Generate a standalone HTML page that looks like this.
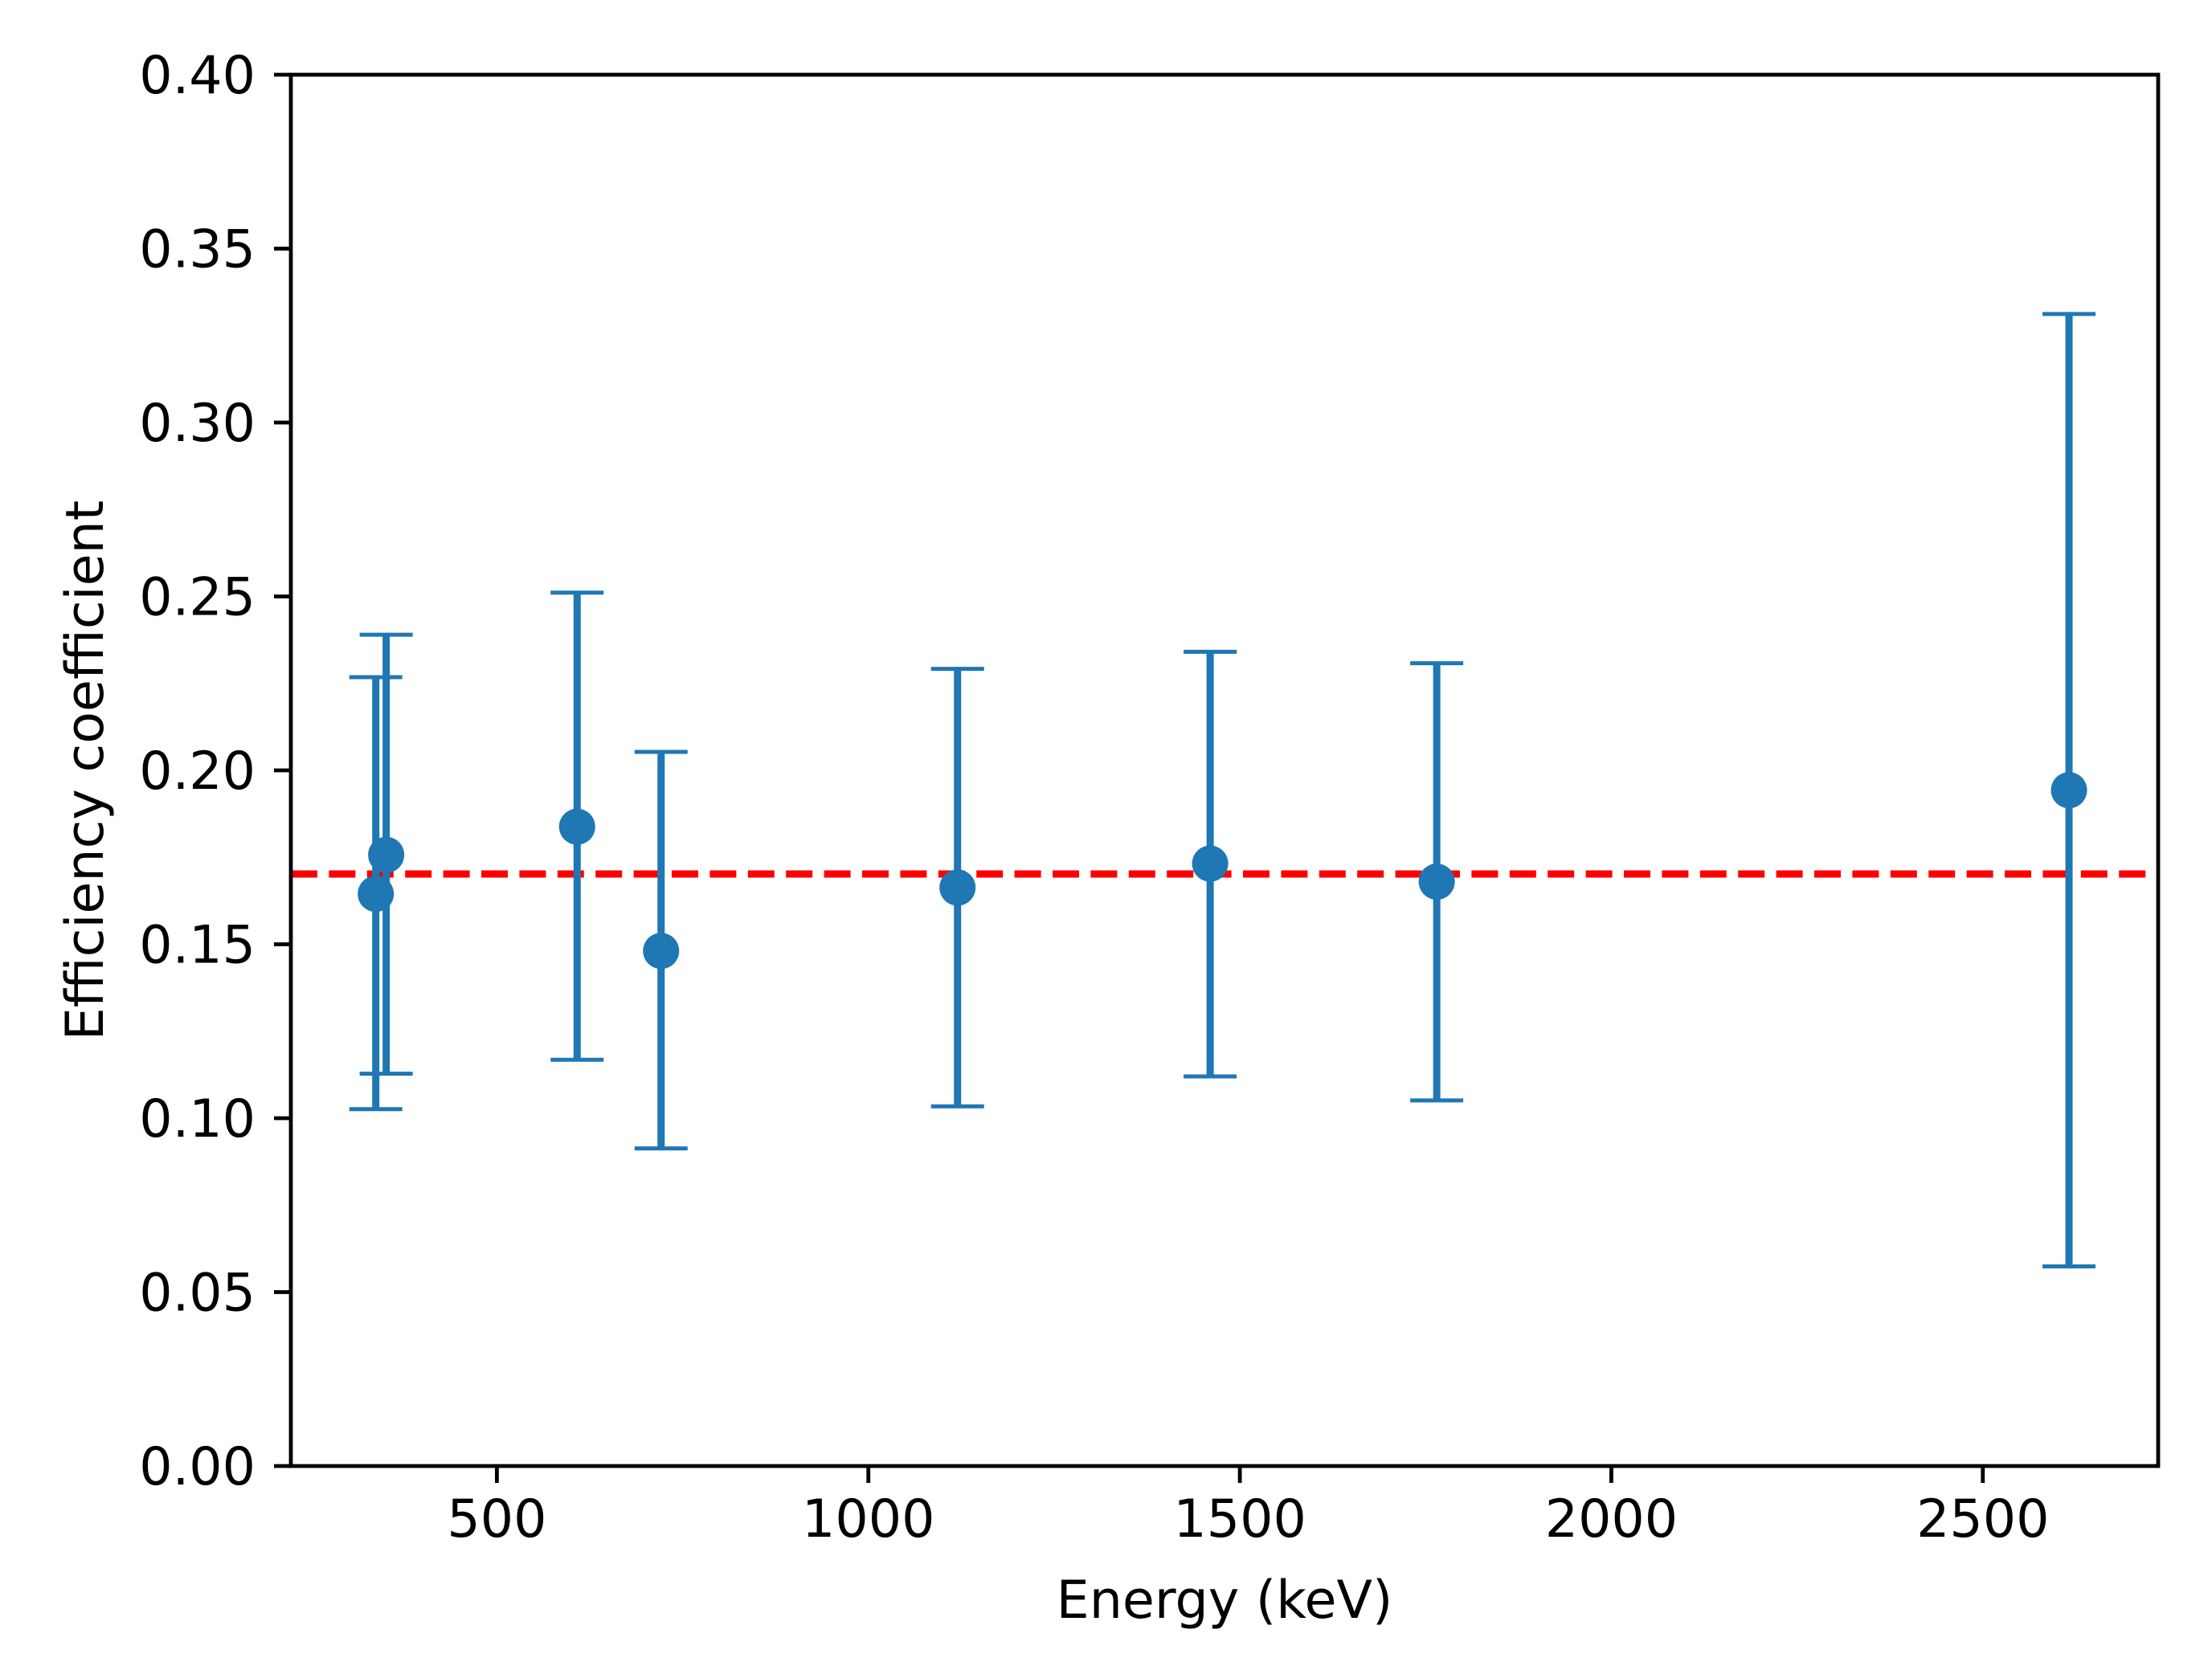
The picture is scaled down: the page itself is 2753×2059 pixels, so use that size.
<!DOCTYPE html>
<html><head><meta charset="utf-8"><style>
html,body{margin:0;padding:0;background:#fff;}
svg{display:block;font-family:"DejaVu Sans","Liberation Sans",sans-serif;}
</style></head><body>
<svg id="chart" width="2753" height="2059" viewBox="0 0 2753 2059">
<rect width="2753" height="2059" fill="#fff"/>
<g id="marks"></g>
<g id="axes"></g>
</svg>
<script>
const energies = [337, 351, 608, 721, 1120, 1460, 1765, 2616];
const efficiency = [0.1645, 0.1757, 0.1838, 0.1481, 0.1663, 0.1732, 0.1680, 0.1943];
const errUpper = [0.2268, 0.2390, 0.2511, 0.2053, 0.2292, 0.2341, 0.2308, 0.3312];
const errLower = [0.1026, 0.1128, 0.1168, 0.0913, 0.1034, 0.1120, 0.1051, 0.0574];
const meanLine = [0.1702];
const xTicks = [500, 1000, 1500, 2000, 2500];
const yTicks = [0.00, 0.05, 0.10, 0.15, 0.20, 0.25, 0.30, 0.35, 0.40];

const L = 362, R = 2686, T = 93, B = 1825;
const xMin = 222.7, xMax = 2736, yMin = 0, yMax = 0.40;
const xs = v => L + (v - xMin) / (xMax - xMin) * (R - L);
const ys = v => B - (v - yMin) / (yMax - yMin) * (B - T);
const NS = 'http://www.w3.org/2000/svg';
function mk(tag, attrs, parent) {
  const e = document.createElementNS(NS, tag);
  for (const k in attrs) e.setAttribute(k, attrs[k]);
  parent.appendChild(e);
  return e;
}
const marks = document.getElementById('marks');
const axes = document.getElementById('axes');
const blue = '#1f77b4';
const FS = 65;

const ml = mk('line', {x1: L, x2: R, y1: ys(meanLine[0]), y2: ys(meanLine[0]), stroke: '#ff0000', 'stroke-width': 9, 'stroke-dasharray': '33 14.4'}, marks);



energies.forEach((e, i) => {
  const x = xs(e);
  const g = mk('g', {}, marks);
  
  
  const bar = mk('line', {x1: x, x2: x, y1: ys(errUpper[i]), y2: ys(errLower[i]), stroke: blue, 'stroke-width': 9}, g);
  
  
  [errUpper[i], errLower[i]].forEach(v => {
    const c = mk('line', {x1: x - 33, x2: x + 33, y1: ys(v), y2: ys(v), stroke: blue, 'stroke-width': 5}, g);
    
    
  });
  const dot = mk('circle', {cx: x, cy: ys(efficiency[i]), r: 22.5, fill: blue}, g);
  
  
});

const fr = mk('rect', {x: L, y: T, width: R - L, height: B - T, fill: 'none', stroke: '#000', 'stroke-width': 4.8}, axes);



xTicks.forEach(t => {
  const x = xs(t);
  const tk = mk('line', {x1: x, x2: x, y1: B, y2: B + 21, stroke: '#000', 'stroke-width': 4.8}, axes);
  
  
  const tx = mk('text', {x: x, y: B + 88, 'font-size': FS, 'text-anchor': 'middle', fill: '#000'}, axes);
  tx.textContent = String(t);
  
  
});
yTicks.forEach(t => {
  const y = ys(t);
  const tk = mk('line', {x1: L - 21, x2: L, y1: y, y2: y, stroke: '#000', 'stroke-width': 4.8}, axes);
  
  
  const tx = mk('text', {x: L - 44, y: y + 23, 'font-size': FS, 'text-anchor': 'end', fill: '#000'}, axes);
  tx.textContent = t.toFixed(2);
  
  
});
const xl = mk('text', {x: (L + R) / 2, y: 2014, 'font-size': FS, 'text-anchor': 'middle', fill: '#000'}, axes);
xl.textContent = 'Energy (keV)';


const yl = mk('text', {x: 0, y: 0, 'font-size': FS, 'text-anchor': 'middle', fill: '#000', transform: 'translate(128,' + ((T + B) / 2) + ') rotate(-90)'}, axes);
yl.textContent = 'Efficiency coefficient';


</script>
</body></html>
